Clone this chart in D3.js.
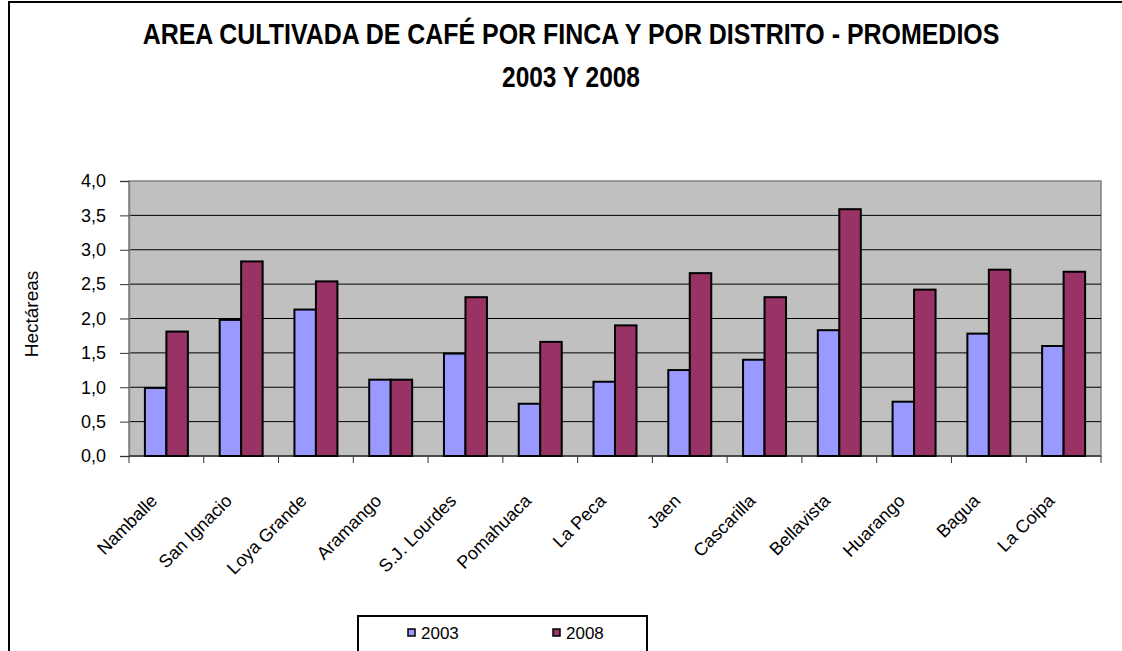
<!DOCTYPE html>
<html>
<head>
<meta charset="utf-8">
<script src="https://cdn.jsdelivr.net/npm/d3@7"></script>
<style>
  body { margin: 0; background: #fff; }
  svg text { font-family: "Liberation Sans", Arial, sans-serif; fill: #000; }
</style>
</head>
<body>
<div id="chart"></div>
<script>
// Districts and average cultivated area (ha) per farm
const districts = ['Namballe', 'San Ignacio', 'Loya Grande', 'Aramango', 'S.J. Lourdes', 'Pomahuaca',
  'La Peca', 'Jaen', 'Cascarilla', 'Bellavista', 'Huarango', 'Bagua', 'La Coipa'];
const years = ['2003', '2008'];
const values2003 = [0.99, 1.98, 2.13, 1.11, 1.49, 0.76, 1.08, 1.25, 1.40, 1.83, 0.79, 1.78, 1.60];
const values2008 = [1.81, 2.83, 2.54, 1.11, 2.31, 1.66, 1.90, 2.66, 2.31, 3.59, 2.42, 2.71, 2.68];
const yTicks = [0, 0.5, 1, 1.5, 2, 2.5, 3, 3.5, 4];
const titleLines = ['AREA CULTIVADA DE CAFÉ POR FINCA Y POR DISTRITO - PROMEDIOS', '2003 Y 2008'];

class GroupedBars {
  constructor(_config) {
    this.config = {
      parentElement: _config.parentElement,
      containerWidth: _config.containerWidth || 1122,
      containerHeight: _config.containerHeight || 651,
      margin: _config.margin || {top: 181, right: 21, bottom: 195, left: 129},
      colors: {'2003': '#9999ff', '2008': '#993366'}
    };
    this.initVis();
  }

  initVis() {
    let vis = this;
    const m = vis.config.margin;
    vis.width = vis.config.containerWidth - m.left - m.right;
    vis.height = vis.config.containerHeight - m.top - m.bottom;

    vis.svg = d3.select(vis.config.parentElement).append('svg')
        .attr('width', vis.config.containerWidth)
        .attr('height', vis.config.containerHeight);

    // outer chart frame (runs off the right and bottom of the picture)
    vis.svg.append('rect')
        .attr('x', 9).attr('y', 2)
        .attr('width', vis.config.containerWidth + 20)
        .attr('height', vis.config.containerHeight + 20)
        .attr('fill', 'none')
        .attr('stroke', '#000')
        .attr('stroke-width', 2);

    // title: tall narrow glyphs, so squeeze horizontally with a scale
    const titleWidths = [857, 138];
    vis.svg.selectAll('.title')
        .data(titleLines)
      .join('text')
        .attr('class', 'title')
        .attr('text-anchor', 'middle')
        .attr('font-size', 30)
        .attr('font-weight', 'bold')
        .text(d => d)
        .attr('transform', function(d, i) {
          const sx = titleWidths[i] / this.getComputedTextLength();
          return `translate(571,${i === 0 ? 44 : 87}) scale(${sx},1)`;
        });

    vis.chart = vis.svg.append('g').attr('transform', `translate(${m.left},${m.top})`);

    vis.xScale = d3.scaleBand().domain(districts).range([0, vis.width]);
    vis.xInner = d3.scaleBand().domain(years).range([0, vis.xScale.bandwidth()]).paddingOuter(0.74);
    vis.yScale = d3.scaleLinear().domain([0, 4]).range([vis.height, 0]);

    vis.chart.append('rect')
        .attr('width', vis.width)
        .attr('height', vis.height)
        .attr('fill', '#c0c0c0')
        .attr('stroke', '#808080')
        .attr('stroke-width', 1.5);

    // gridlines
    vis.chart.selectAll('.grid')
        .data(yTicks.filter(t => t > 0 && t < 4))
      .join('line')
        .attr('class', 'grid')
        .attr('x1', 0).attr('x2', vis.width)
        .attr('y1', d => vis.yScale(d)).attr('y2', d => vis.yScale(d))
        .attr('stroke', '#000')
        .attr('stroke-width', 1);

    const fmt = d => d3.format('.1f')(d).replace('.', ',');
    vis.yAxis = vis.chart.append('g')
        .call(d3.axisLeft(vis.yScale).tickValues(yTicks).tickFormat(fmt).tickSize(9).tickPadding(14));
    vis.yAxis.select('.domain').attr('stroke', '#808080').attr('stroke-width', 1.5);
    vis.yAxis.selectAll('.tick line').attr('stroke', '#333');
    vis.yAxis.selectAll('text').attr('font-size', 18).attr('font-family', '"Liberation Sans", Arial, sans-serif');

    // x axis: ticks at the category boundaries
    vis.chart.append('line')
        .attr('x1', 0).attr('x2', vis.width)
        .attr('y1', vis.height).attr('y2', vis.height)
        .attr('stroke', '#333').attr('stroke-width', 1.5);
    const bounds = districts.map(d => vis.xScale(d)).concat([vis.width]);
    vis.chart.selectAll('.xtick')
        .data(bounds)
      .join('line')
        .attr('class', 'xtick')
        .attr('x1', d => d).attr('x2', d => d)
        .attr('y1', vis.height).attr('y2', vis.height + 7)
        .attr('stroke', '#333');

    vis.chart.selectAll('.xlabel')
        .data(districts)
      .join('text')
        .attr('class', 'xlabel')
        .attr('text-anchor', 'end')
        .attr('font-size', 18)
        .attr('transform', d => `translate(${vis.xScale(d) + vis.xScale.bandwidth() / 2 - 8},${vis.height + 46}) rotate(-45)`)
        .text(d => d);

    vis.svg.append('text')
        .attr('transform', `translate(38,314) rotate(-90)`)
        .attr('text-anchor', 'middle')
        .attr('font-size', 19)
        .text('Hectáreas');

    vis.updateVis();
  }

  updateVis() {
    let vis = this;
    vis.groups = districts.map((d, i) => ({
      district: d,
      bars: [{year: '2003', value: values2003[i]}, {year: '2008', value: values2008[i]}]
    }));
    vis.renderVis();
  }

  renderVis() {
    let vis = this;
    const group = vis.chart.selectAll('.group')
        .data(vis.groups)
      .join('g')
        .attr('class', 'group')
        .attr('transform', d => `translate(${vis.xScale(d.district)},0)`);

    group.selectAll('rect')
        .data(d => d.bars)
      .join('rect')
        .attr('x', d => vis.xInner(d.year))
        .attr('width', vis.xInner.bandwidth())
        .attr('y', d => vis.yScale(d.value))
        .attr('height', d => vis.height - vis.yScale(d.value))
        .attr('fill', d => vis.config.colors[d.year])
        .attr('stroke', '#000')
        .attr('stroke-width', 2);

    // legend box (cut off at the bottom like the source)
    const legend = vis.svg.append('g').attr('transform', 'translate(358,616)');
    legend.append('rect')
        .attr('width', 289).attr('height', 60)
        .attr('fill', '#fff').attr('stroke', '#000').attr('stroke-width', 2);
    const item = legend.selectAll('.item')
        .data(years)
      .join('g')
        .attr('class', 'item')
        .attr('transform', (d, i) => `translate(${i === 0 ? 50 : 195},17)`);
    item.append('rect')
        .attr('width', 7).attr('height', 7).attr('y', -4)
        .attr('fill', d => vis.config.colors[d])
        .attr('stroke', '#000').attr('stroke-width', 1.5);
    item.append('text')
        .attr('x', 13).attr('dy', '.35em')
        .attr('font-size', 17)
        .text(d => d);
  }
}

new GroupedBars({parentElement: '#chart'});
</script>
</body>
</html>
